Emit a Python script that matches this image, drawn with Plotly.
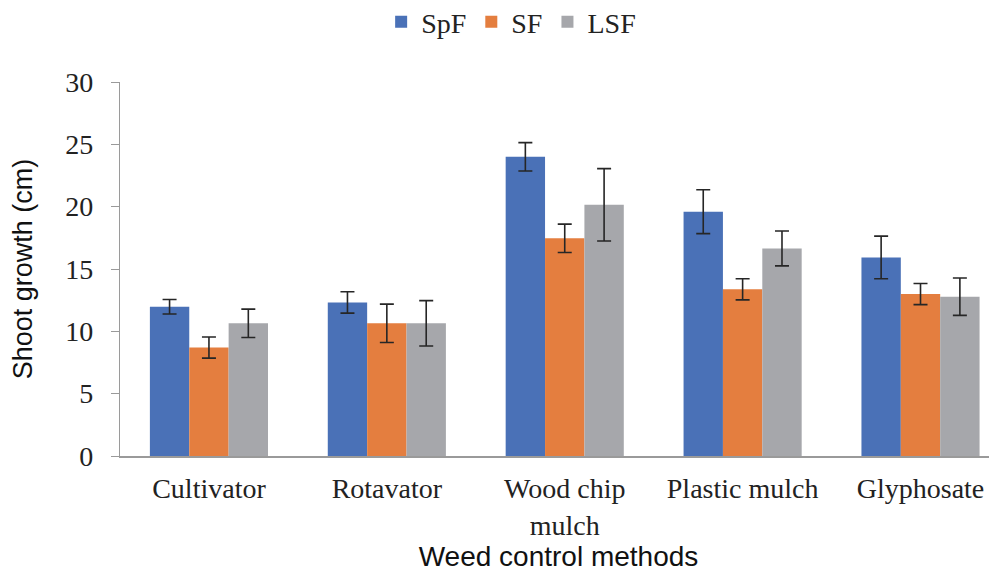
import plotly.graph_objects as go

categories = ["Cultivator", "Rotavator", "Wood chip<br>mulch", "Plastic mulch", "Glyphosate"]
spf = [11.97, 12.32, 24.0, 19.6, 15.93]
spf_err = [0.58, 0.86, 1.14, 1.76, 1.71]
sf = [8.7, 10.64, 17.46, 13.37, 12.99]
sf_err = [0.85, 1.54, 1.14, 0.85, 0.85]
lsf = [10.64, 10.64, 20.15, 16.65, 12.78]
lsf_err = [1.14, 1.82, 2.9, 1.4, 1.5]

series = [("SpF", spf, spf_err, "#4A71B7"),
          ("SF", sf, sf_err, "#E47E3F"),
          ("LSF", lsf, lsf_err, "#A6A7AB")]

fig = go.Figure()
for name, vals, errs, col in series:
    fig.add_trace(go.Bar(
        name=name, x=categories, y=vals, marker_color=col,
        marker_line_width=0,
        error_y=dict(type="data", array=errs, visible=True,
                     color="#262626", thickness=1.6, width=7),
    ))

fig.update_layout(
    width=997, height=573,
    margin=dict(l=112, r=8, t=74, b=125, autoexpand=False),
    paper_bgcolor="white", plot_bgcolor="white",
    barmode="group", bargap=0.336, bargroupgap=0,
    font=dict(family="Liberation Serif", size=28, color="#222"),
    legend=dict(orientation="h", x=0.446, xanchor="center", y=1.16, yanchor="middle",
                font=dict(family="Liberation Serif", size=28, color="#222"),
                itemwidth=30, traceorder="normal"),
    xaxis=dict(range=[-0.5, 4.43], showline=True, linecolor="#9a9a9a", linewidth=1.5,
               ticks="", automargin=False, ticklabelstandoff=7,
               tickfont=dict(family="Liberation Serif", size=28, color="#222"),
               title=dict(text="Weed control methods", standoff=2,
                          font=dict(family="Liberation Sans", size=28, color="#111"))),
    yaxis=dict(range=[0, 30], dtick=5, showgrid=False, zeroline=False,
               showline=True, linecolor="#9a9a9a", linewidth=1.2, automargin=False,
               ticks="outside", ticklen=8, tickcolor="#9a9a9a", ticklabelstandoff=12,
               tickfont=dict(family="Liberation Serif", size=28, color="#222"),
               title=dict(text="Shoot growth (cm)", standoff=24,
                          font=dict(family="Liberation Sans", size=27, color="#111"))),
)

fig.write_html("out.html")
